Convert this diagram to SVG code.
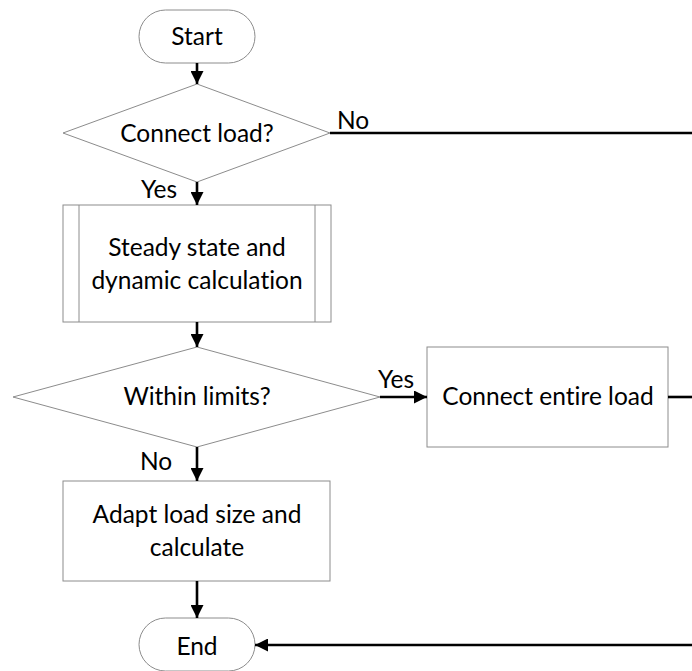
<svg xmlns="http://www.w3.org/2000/svg" width="692" height="671" viewBox="0 0 692 671">
<defs>
<marker id="ah" markerWidth="5" markerHeight="5" refX="5" refY="2.5" orient="auto" markerUnits="strokeWidth">
<path d="M0,0 L5,2.5 L0,5 Z" fill="#000"/>
</marker>
<style>
.shape{fill:#fff;stroke:#8c8c8c;stroke-width:1}
.t{font-family:Lato,"Liberation Sans",sans-serif;font-size:24.5px;fill:#000;text-anchor:middle;font-variant-ligatures:none}
.lbl{font-family:Lato,"Liberation Sans",sans-serif;font-size:24.5px;fill:#000;font-variant-ligatures:none}
.c{fill:none;stroke:#000;stroke-width:2.6}
.ca{fill:none;stroke:#000;stroke-width:2.6;marker-end:url(#ah)}
</style>
</defs>
<rect width="692" height="671" fill="#fff"/>
<g id="start">
<rect class="shape" x="139" y="10" width="116" height="53" rx="26.5" ry="26.5"/>
<text class="t" x="197" y="45">Start</text>
</g>
<g id="connect-load">
<polygon class="shape" points="197,84 330,133 197,182 63,133"/>
<text class="t" x="197" y="142">Connect load?</text>
</g>
<g id="calc">
<rect class="shape" x="63" y="205" width="268" height="117"/>
<line class="shape" x1="79" y1="205" x2="79" y2="322"/>
<line class="shape" x1="315" y1="205" x2="315" y2="322"/>
<text class="t" x="197" y="256">Steady state and</text>
<text class="t" x="197" y="289">dynamic calculation</text>
</g>
<g id="within-limits">
<polygon class="shape" points="197,347 380,397 197,447 13,397"/>
<text class="t" x="197" y="405">Within limits?</text>
</g>
<g id="connect-entire">
<rect class="shape" x="427" y="347" width="241" height="100"/>
<text class="t" x="548" y="405">Connect entire load</text>
</g>
<g id="adapt">
<rect class="shape" x="63" y="481" width="267" height="100"/>
<text class="t" x="197" y="523">Adapt load size and</text>
<text class="t" x="197" y="556">calculate</text>
</g>
<g id="end">
<rect class="shape" x="139" y="618" width="116" height="53" rx="26.5" ry="26.5"/>
<text class="t" x="197" y="655">End</text>
</g>
<g id="connectors">
<line class="ca" x1="197" y1="63" x2="197" y2="84"/>
<line class="c" x1="330" y1="133" x2="692" y2="133"/>
<text class="lbl" x="337" y="129">No</text>
<line class="ca" x1="197" y1="182" x2="197" y2="205"/>
<text class="lbl" x="141" y="198">Yes</text>
<line class="ca" x1="197" y1="322" x2="197" y2="347"/>
<line class="ca" x1="380" y1="397" x2="427" y2="397"/>
<text class="lbl" x="378" y="388">Yes</text>
<line class="c" x1="668" y1="397" x2="692" y2="397"/>
<line class="ca" x1="197" y1="447" x2="197" y2="481"/>
<text class="lbl" x="140" y="470">No</text>
<line class="ca" x1="197" y1="581" x2="197" y2="618"/>
<line class="ca" x1="692" y1="645" x2="255" y2="645"/>
</g>
</svg>
